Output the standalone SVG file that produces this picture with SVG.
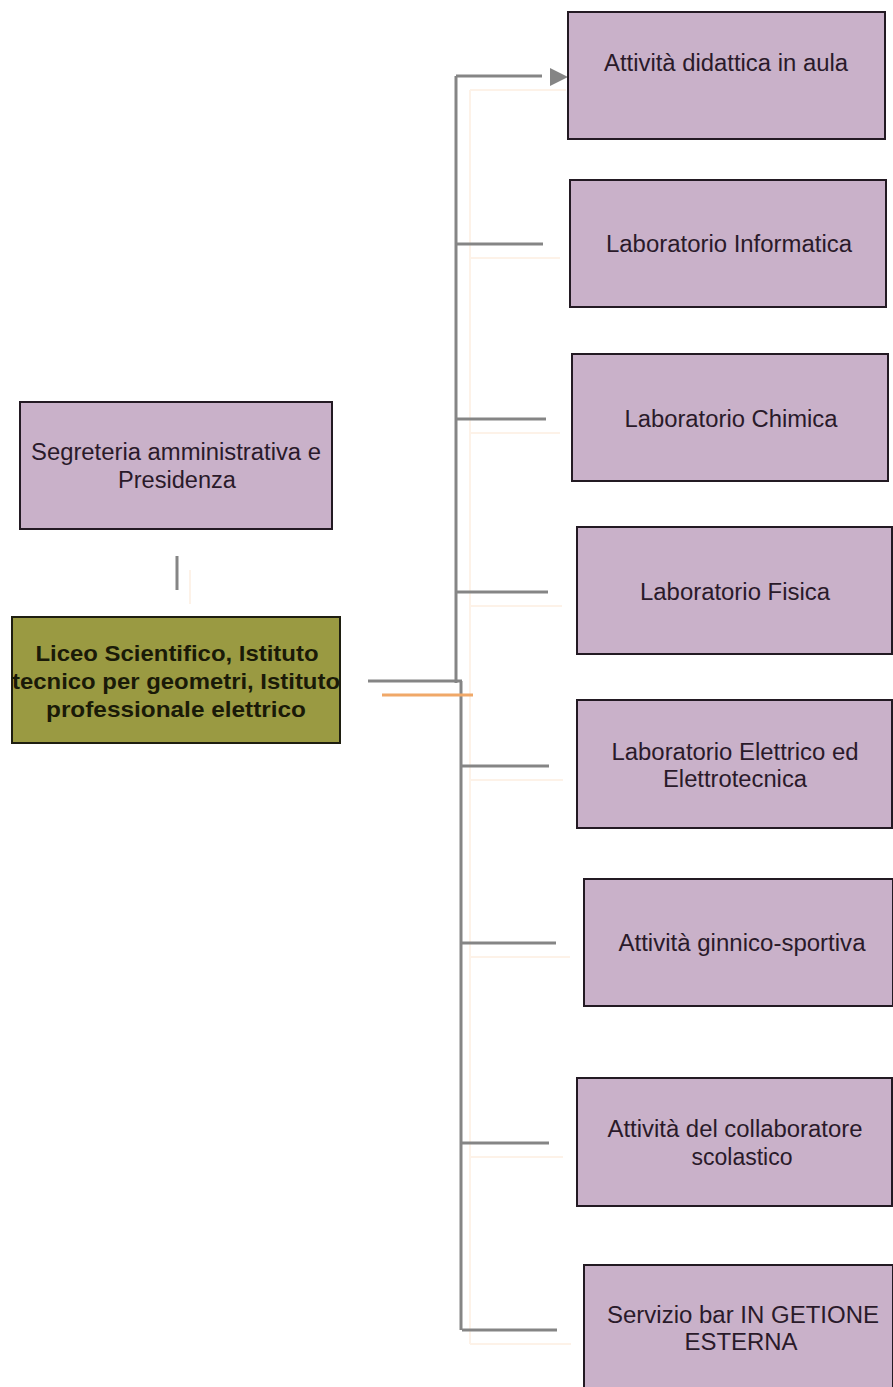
<svg xmlns="http://www.w3.org/2000/svg" width="893" height="1387" viewBox="0 0 893 1387">
<style>
.box{fill:#c9b1c9;stroke:#231a23;stroke-width:2}
.main{fill:#9a9a42;stroke:#1e1e10;stroke-width:2}
.t{font-family:"Liberation Sans",Arial,sans-serif;font-size:23px;fill:#2a1a2a;text-anchor:middle}
.tb{font-family:"Liberation Sans",Arial,sans-serif;font-size:22px;font-weight:bold;fill:#1a1a08;text-anchor:middle}
.c{stroke:#858585;stroke-width:3;fill:none}
.sh{stroke:#fbe6d2;stroke-width:2;fill:none;opacity:0.5}
</style>
<g id="connectors">
<path class="sh" d="M470,90 V1344 M470,90 H566 M470,258 H560 M470,433 H560 M470,606 H562 M470,780 H563 M470,957 H570 M470,1157 H563 M470,1344 H571 M190,570 V604"/>
<path class="c" d="M456,76 V683 M461,681 V1330"/>
<path class="c" d="M456,76 H542"/>
<path d="M550,68 L568,77 L550,86 z" fill="#858585"/>
<path class="c" d="M456,244 H543 M456,419 H546 M456,592 H548 M461,766 H549 M461,943 H556 M461,1143 H549 M462,1330 H557"/>
<path class="c" d="M368,681 H462"/>
<path d="M382,695 H473" stroke="#f0a868" stroke-width="3" fill="none"/>
<path class="c" d="M177,556 V590"/>
</g>
<g id="n-segreteria">
<rect class="box" x="20" y="402" width="312" height="127"/>
<text class="t" x="176" y="460" textLength="290" lengthAdjust="spacingAndGlyphs">Segreteria amministrativa e</text>
<text class="t" x="177" y="488" textLength="118" lengthAdjust="spacingAndGlyphs">Presidenza</text>
</g>
<g id="n-liceo">
<rect class="main" x="12" y="617" width="328" height="126"/>
<text class="tb" x="177" y="661" textLength="283" lengthAdjust="spacingAndGlyphs">Liceo Scientifico, Istituto</text>
<text class="tb" x="176" y="689" textLength="328" lengthAdjust="spacingAndGlyphs">tecnico per geometri, Istituto</text>
<text class="tb" x="176" y="717" textLength="260" lengthAdjust="spacingAndGlyphs">professionale elettrico</text>
</g>
<g id="n-aula">
<rect class="box" x="568" y="12" width="317" height="127"/>
<text class="t" x="726" y="71" textLength="244" lengthAdjust="spacingAndGlyphs">Attività didattica in aula</text>
</g>
<g id="n-informatica">
<rect class="box" x="570" y="180" width="316" height="127"/>
<text class="t" x="729" y="252" textLength="246" lengthAdjust="spacingAndGlyphs">Laboratorio Informatica</text>
</g>
<g id="n-chimica">
<rect class="box" x="572" y="354" width="316" height="127"/>
<text class="t" x="731" y="427" textLength="213" lengthAdjust="spacingAndGlyphs">Laboratorio Chimica</text>
</g>
<g id="n-fisica">
<rect class="box" x="577" y="527" width="315" height="127"/>
<text class="t" x="735" y="600" textLength="190" lengthAdjust="spacingAndGlyphs">Laboratorio Fisica</text>
</g>
<g id="n-elettrico">
<rect class="box" x="577" y="700" width="315" height="128"/>
<text class="t" x="735" y="760" textLength="247" lengthAdjust="spacingAndGlyphs">Laboratorio Elettrico ed</text>
<text class="t" x="735" y="787" textLength="144" lengthAdjust="spacingAndGlyphs">Elettrotecnica</text>
</g>
<g id="n-ginnico">
<rect class="box" x="584" y="879" width="309" height="127"/>
<text class="t" x="742" y="951" textLength="247" lengthAdjust="spacingAndGlyphs">Attività ginnico-sportiva</text>
</g>
<g id="n-collaboratore">
<rect class="box" x="577" y="1078" width="315" height="128"/>
<text class="t" x="735" y="1137" textLength="255" lengthAdjust="spacingAndGlyphs">Attività del collaboratore</text>
<text class="t" x="742" y="1165">scolastico</text>
</g>
<g id="n-bar">
<rect class="box" x="584" y="1265" width="309" height="123"/>
<text class="t" x="743" y="1323" textLength="272" lengthAdjust="spacingAndGlyphs">Servizio bar IN GETIONE</text>
<text class="t" x="741" y="1350" textLength="113" lengthAdjust="spacingAndGlyphs">ESTERNA</text>
</g>
</svg>
